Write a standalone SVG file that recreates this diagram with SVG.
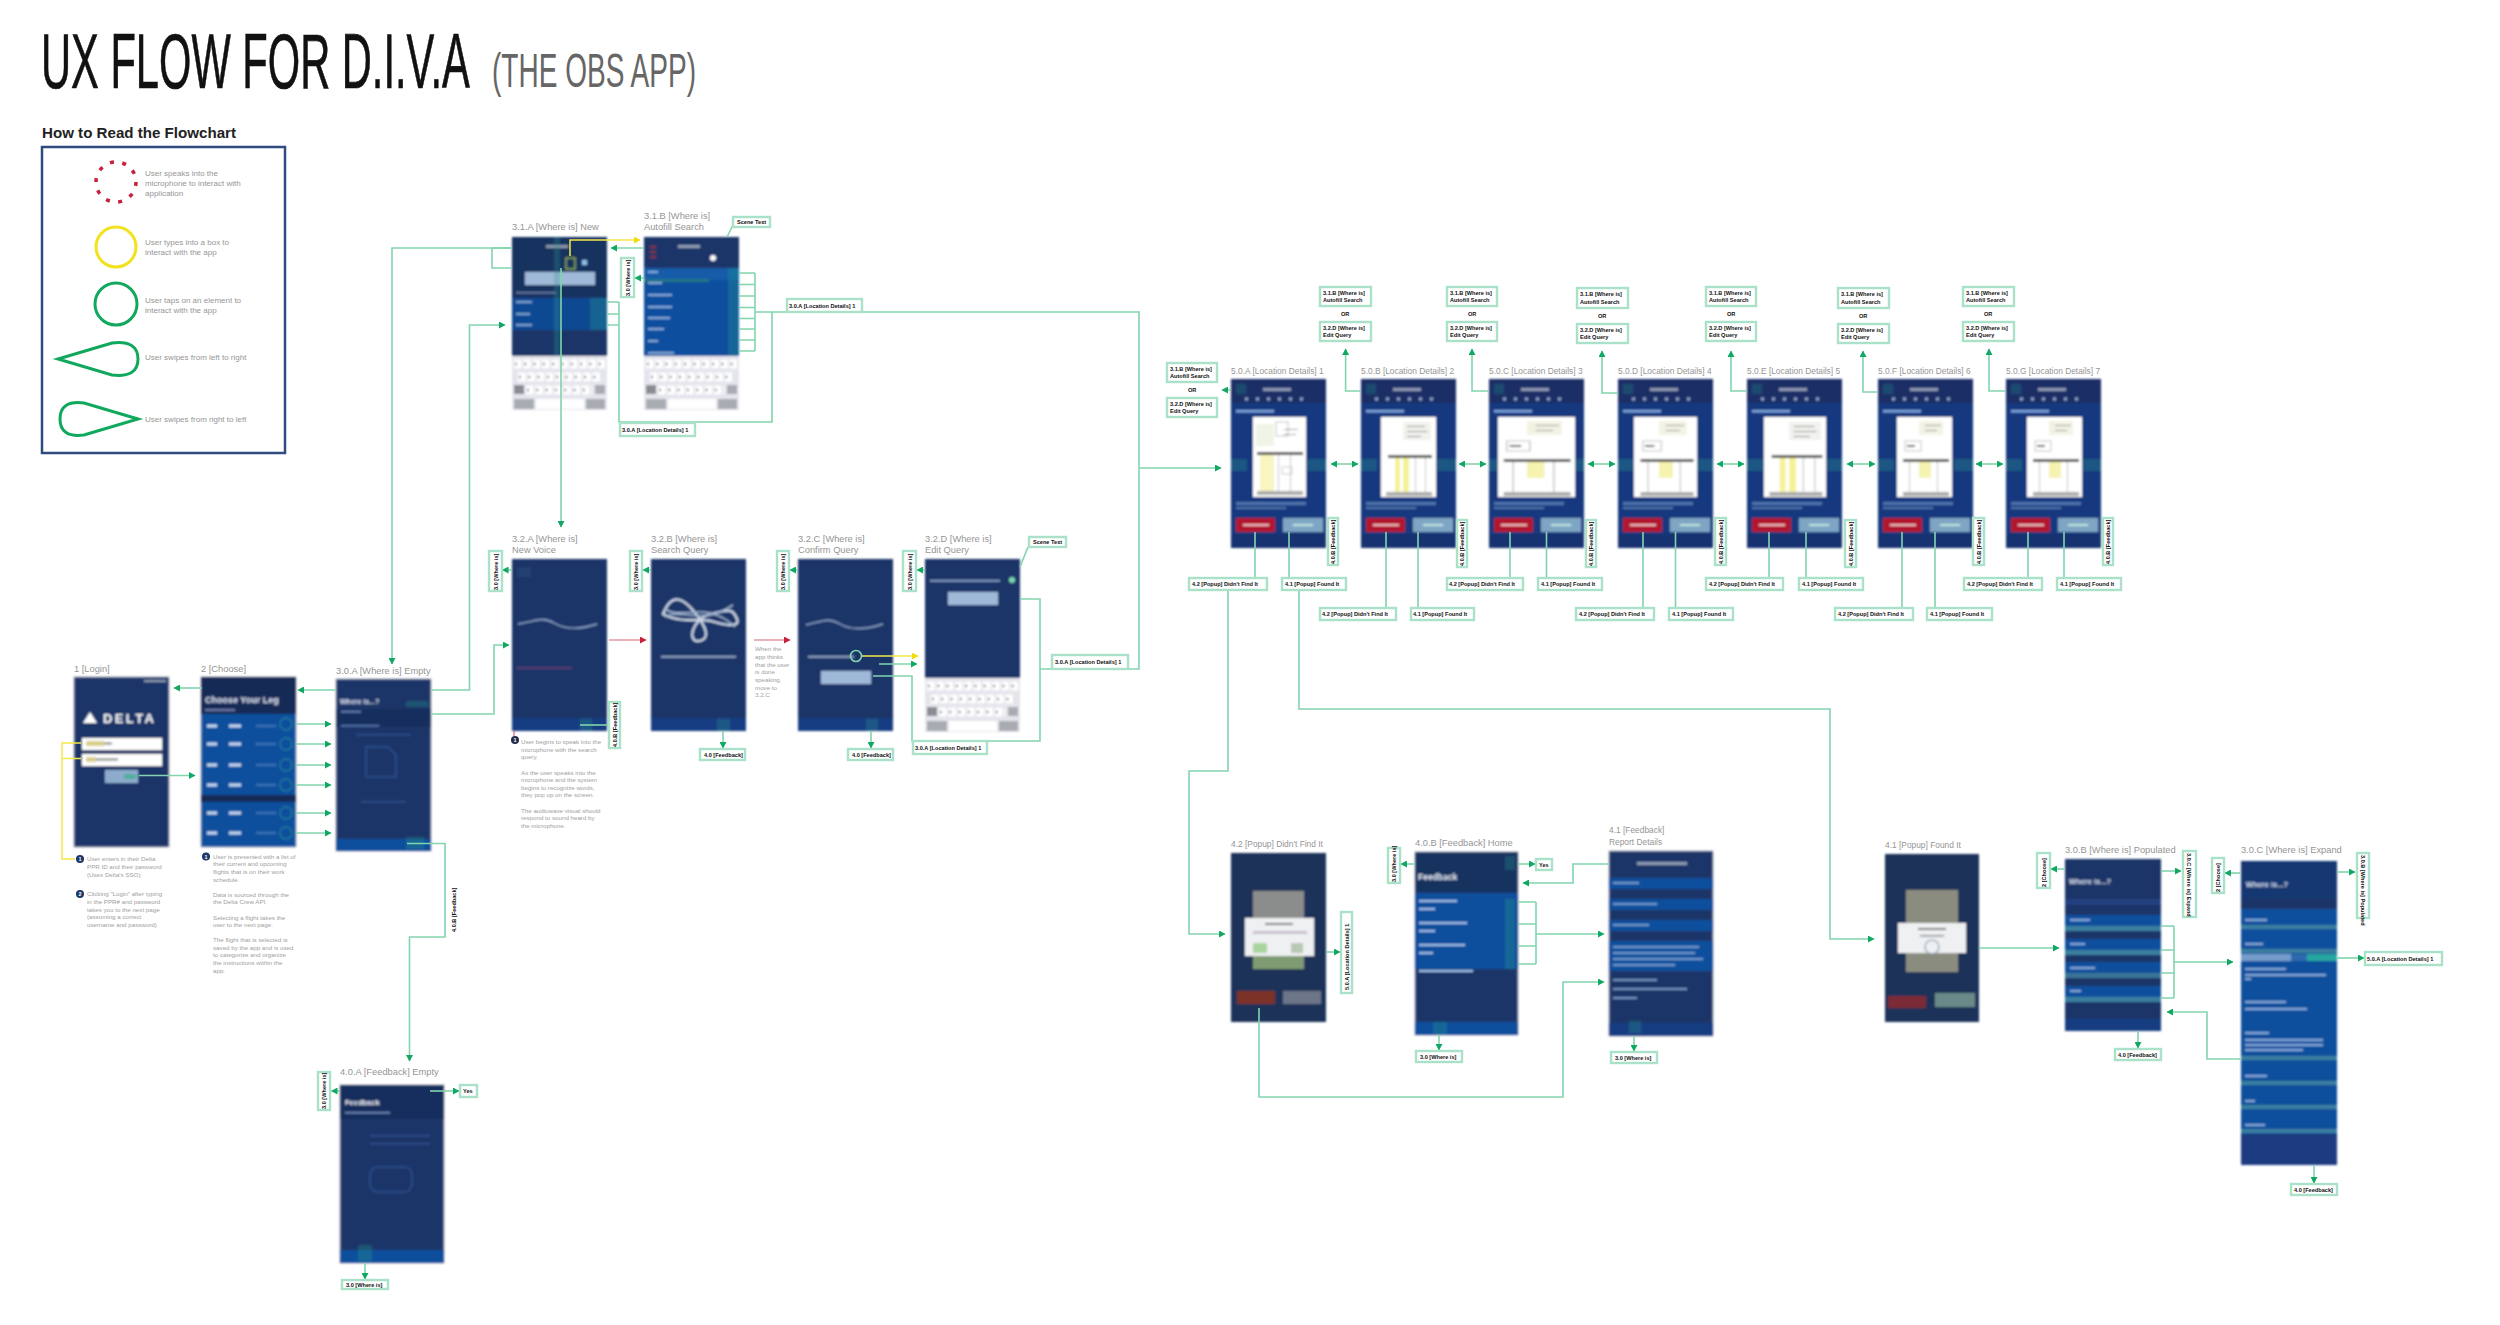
<svg xmlns="http://www.w3.org/2000/svg" width="2500" height="1325" viewBox="0 0 2500 1325">
<style>
text{font-family:"Liberation Sans",Arial,sans-serif}
.l{font-size:9.3px;fill:#959595}
.ld{font-size:8.4px;fill:#959595}
.a{font-size:6.2px;fill:#a0a0a0}
.lg{font-size:8px;fill:#969696}
.bx{fill:#fff;stroke:#a9e2c8;stroke-width:2.4}
.t{font-size:5.6px;font-weight:700;fill:#111}
.c{fill:none;stroke:#82d4ae;stroke-width:1.6}
.y{fill:none;stroke:#f5e84a;stroke-width:1.5}
.r{fill:none;stroke:#d9667a;stroke-width:1.2}
.ar{marker-end:url(#ag)}
.da{marker-start:url(#ag);marker-end:url(#ag)}
.s{filter:url(#bl)}
.w{fill:#fff;opacity:.5}
.n{fill:#1b3668}
.d{fill:#162a56}
.b{fill:#10509c}
.g{fill:#2a9d8f;opacity:.3}
.num{font-size:5.5px;fill:#fff;font-weight:700;text-anchor:middle}
</style>
<defs>
<filter id="bl" x="-5%" y="-5%" width="110%" height="110%"><feGaussianBlur stdDeviation="0.8"/></filter>
<marker id="ag" markerUnits="userSpaceOnUse" markerWidth="7" markerHeight="7" refX="6" refY="3.5" orient="auto-start-reverse"><path d="M0 0L6.5 3.5L0 7z" fill="#10a862"/></marker>
<marker id="ay" markerUnits="userSpaceOnUse" markerWidth="7" markerHeight="7" refX="6" refY="3.5" orient="auto"><path d="M0 0L6.5 3.5L0 7z" fill="#f0dc10"/></marker>
<marker id="ar" markerUnits="userSpaceOnUse" markerWidth="7" markerHeight="7" refX="6" refY="3.5" orient="auto"><path d="M0 0L6.5 3.5L0 7z" fill="#c8203f"/></marker>
<g id="kb">
<rect width="95" height="54" fill="#e4e5ec"/>
<path d="M2 8H93" stroke="#fff" stroke-width="9" stroke-dasharray="7.5 1.8"/>
<path d="M6 21H89" stroke="#fff" stroke-width="9" stroke-dasharray="7.5 1.8"/>
<path d="M14 34H80" stroke="#fff" stroke-width="9" stroke-dasharray="7.5 1.8"/>
<path d="M3 8H93M7 21H89M15 34H80" stroke="#8a8a90" stroke-width="2.5" stroke-dasharray="2 7.3"/>
<rect x="2" y="29" width="10" height="9" fill="#8a8c94"/><rect x="83" y="29" width="10" height="9" fill="#a9abb3"/>
<rect x="2" y="43" width="20" height="10" fill="#a9abb3"/><rect x="24" y="43" width="48" height="10" fill="#fff"/><rect x="74" y="43" width="19" height="10" fill="#a9abb3"/>
</g>
<g id="plan">
<rect x="2" y="5" width="18" height="22" fill="#f0f4e6"/><rect x="22" y="3" width="12" height="14" fill="none" stroke="#aaa" stroke-width=".7"/>
<rect x="3" y="33" width="46" height="3" fill="#555"/>
<rect x="6" y="36" width="14" height="36" fill="#f8f5c0"/><rect x="24" y="36" width="1" height="36" fill="#c4c4c4"/><rect x="36" y="36" width="1" height="36" fill="#c4c4c4"/>
<rect x="3" y="72" width="46" height="4" fill="#aaa"/><rect x="30" y="10" width="14" height="1" fill="#999"/><rect x="30" y="15" width="12" height="1" fill="#999"/><rect x="28" y="48" width="10" height="7" fill="none" stroke="#bbb" stroke-width=".7"/>
</g>
<g id="plan2">
<rect x="20" y="3" width="28" height="18" fill="#f2f2ee"/><rect x="24" y="7" width="18" height="1" fill="#888"/><rect x="24" y="12" width="20" height="1" fill="#888"/><rect x="24" y="17" width="14" height="1" fill="#888"/>
<rect x="5" y="36" width="44" height="3" fill="#555"/>
<rect x="12" y="39" width="5" height="34" fill="#f5f196"/><rect x="20" y="39" width="6" height="34" fill="#f5f196"/><rect x="32" y="39" width="1" height="34" fill="#c4c4c4"/><rect x="42" y="39" width="1" height="34" fill="#c4c4c4"/>
<rect x="3" y="73" width="46" height="4" fill="#aaa"/>
</g>
<g id="plan3">
<rect x="20" y="2" width="24" height="14" fill="#f3f3e4"/><rect x="26" y="6" width="16" height="1" fill="#999"/><rect x="26" y="11" width="12" height="1" fill="#999"/>
<rect x="6" y="22" width="16" height="10" fill="none" stroke="#aaa" stroke-width=".7"/><rect x="8" y="26" width="8" height="2" fill="#666"/>
<rect x="4" y="40" width="46" height="3" fill="#555"/>
<rect x="20" y="43" width="12" height="16" fill="#f5f3b0"/><rect x="10" y="43" width="1" height="30" fill="#c4c4c4"/><rect x="38" y="43" width="1" height="30" fill="#c4c4c4"/>
<rect x="4" y="73" width="46" height="4" fill="#aaa"/>
</g>
<g id="detail">
<rect width="95" height="169" fill="#17397e"/>
<rect width="95" height="24" fill="#1a2f66"/>
<rect x="5" y="5" width="10" height="10" fill="#206a7a" opacity=".5"/>
<rect x="32" y="9" width="28" height="3" class="w"/>
<path d="M14 20H78" stroke="#8ea6cc" stroke-width="3" stroke-dasharray="3 8"/>
<rect x="5" y="31" width="38" height="2.5" fill="#7fa6de"/>
<rect x="5" y="123" width="70" height="3" fill="#4f74ad"/><rect x="5" y="128" width="50" height="2" fill="#4f74ad"/>
<rect x="5" y="139" width="39" height="14" fill="#b2142f"/><rect x="12" y="145" width="26" height="2" fill="#e9b7bf"/>
<rect x="52" y="139" width="40" height="14" fill="#7ea6c4"/><rect x="62" y="145" width="20" height="2" fill="#bfe3e0"/>
<rect y="155" width="95" height="14" fill="#153170"/>
<rect x="0" y="80" width="16" height="12" class="g"/><rect x="76" y="80" width="19" height="12" class="g"/>
</g>
</defs>

<g id="title">
<text transform="translate(41,88) scale(.541,1)" font-size="77" fill="#111" stroke="#111" stroke-width=".7">UX FLOW FOR D.I.V.A</text>
<text transform="translate(492,87) scale(.572,1)" font-size="49" fill="#666">(THE OBS APP)</text>
</g>

<g id="legend">
<text x="42" y="138" font-size="15" font-weight="700" fill="#222" textLength="194" lengthAdjust="spacingAndGlyphs">How to Read the Flowchart</text>
<rect x="42" y="147" width="243" height="306" fill="#fff" stroke="#2f4c80" stroke-width="2.5"/>
<circle cx="116" cy="182" r="20" fill="none" stroke="#c8203f" stroke-width="3.5" stroke-dasharray="4 8.5"/>
<circle cx="116" cy="247" r="20" fill="none" stroke="#f2e21e" stroke-width="3"/>
<circle cx="116" cy="304" r="21" fill="none" stroke="#10a85c" stroke-width="3"/>
<path d="M58 359L112 343Q138 340 138 359Q138 378 112 375z" fill="none" stroke="#10a85c" stroke-width="3"/>
<path d="M138 419L84 403Q60 400 60 419Q60 438 84 435z" fill="none" stroke="#10a85c" stroke-width="3"/>
<text class="lg" x="145" y="176">User speaks into the</text>
<text class="lg" x="145" y="186">microphone to interact with</text>
<text class="lg" x="145" y="196">application</text>
<text class="lg" x="145" y="245">User types into a box to</text>
<text class="lg" x="145" y="255">interact with the app</text>
<text class="lg" x="145" y="303">User taps on an element to</text>
<text class="lg" x="145" y="313">interact with the app</text>
<text class="lg" x="145" y="360">User swipes from left to right</text>
<text class="lg" x="145" y="422">User swipes from right to left</text>
</g>

<g id="n-login">
<text class="l" x="74" y="672">1 [Login]</text>
<g class="s" transform="translate(74,677)">
<rect width="95" height="170" class="n" stroke="#b5b9c4" stroke-width=".8"/>
<path d="M9 46L16 35L23 46z" fill="#fff"/>
<rect x="8" y="61" width="80" height="12" fill="#fff"/><rect x="8" y="77" width="80" height="12" fill="#fff"/>
<rect x="12" y="64" width="18" height="5" fill="#d9cf8a"/><rect x="12" y="80" width="10" height="5" fill="#d9cf8a"/><rect x="22" y="81" width="22" height="3" fill="#aaa"/><rect x="30" y="65" width="8" height="3" fill="#aaa"/>
<rect x="31" y="93" width="33" height="13" fill="#8daccd"/>
<rect x="50" y="97" width="12" height="5" fill="#4fae9c"/>
<rect x="70" y="3" width="22" height="2" class="w"/>
<text x="29" y="46" font-size="13" font-weight="700" fill="#fff" letter-spacing="2.4">DELTA</text>
</g>
</g>

<g id="n-choose">
<text class="l" x="201" y="672">2 [Choose]</text>
<g class="s" transform="translate(201,677)">
<rect width="95" height="170" class="b" stroke="#b5b9c4" stroke-width=".8"/>
<rect width="95" height="37" class="d"/>
<rect y="118" width="95" height="7" class="d"/>
<rect x="4" y="32" width="30" height="2" fill="#6d78a6"/>
<path d="M6 49H16M28 49H40M6 67H16M28 67H40M6 88H16M28 88H40M6 108H16M28 108H40M6 136H16M28 136H40M6 156H16M28 156H40" stroke="#c9dcf4" stroke-width="3"/>
<path d="M55 49H75M55 67H75M55 88H75M55 108H75M55 136H75M55 156H75" stroke="#3b73b8" stroke-width="2"/>
<g fill="none" stroke="#2c8a97" stroke-width="1.4" opacity=".7"><circle cx="85" cy="47" r="6"/><circle cx="85" cy="67" r="6"/><circle cx="85" cy="88" r="6"/><circle cx="85" cy="108" r="6"/><circle cx="85" cy="136" r="6"/><circle cx="85" cy="156" r="6"/></g>
<text x="4" y="26" font-size="9" font-weight="700" fill="#dfe6f5">Choose Your Leg</text>
</g>
</g>

<g id="n-where-empty">
<text class="l" x="336" y="674">3.0.A [Where is] Empty</text>
<g class="s" transform="translate(336,679)">
<rect width="95" height="172" class="n" stroke="#b5b9c4" stroke-width=".8"/>
<rect y="30" width="95" height="18" class="d" opacity=".6"/>
<rect x="5" y="32" width="20" height="1.5" fill="#6f8ac0"/><rect x="5" y="46" width="38" height="1.5" fill="#587bb5"/>
<path d="M30 68h22l8 8v22h-30z" fill="none" stroke="#2a4f90" stroke-width="1.6"/>
<rect x="20" y="55" width="55" height="1.5" fill="#2d4f8e"/><rect x="25" y="122" width="45" height="1.5" fill="#2d4f8e"/>
<rect y="160" width="95" height="12" class="b"/>
<rect x="70" y="158" width="18" height="12" class="g"/><rect x="70" y="22" width="22" height="6" class="g"/>
<text x="4" y="25" font-size="7" font-weight="700" fill="#dfe6f5">Where is...?</text>
</g>
</g>

<g id="n-feedback-empty">
<text class="l" x="340" y="1075">4.0.A [Feedback] Empty</text>
<g class="s" transform="translate(340,1085)">
<rect width="104" height="178" class="n" stroke="#b5b9c4" stroke-width=".8"/>
<rect width="104" height="34" class="d" opacity=".6"/>
<rect x="5" y="27" width="45" height="1.5" fill="#7790c0"/>
<rect x="30" y="50" width="60" height="1.5" fill="#2d4f8e"/><rect x="30" y="58" width="60" height="1.5" fill="#2d4f8e"/>
<rect x="30" y="82" width="42" height="25" rx="8" fill="none" stroke="#2a4f90" stroke-width="1.5"/>
<rect y="165" width="104" height="13" class="b"/><rect x="18" y="160" width="14" height="16" class="g"/>
<text x="5" y="20" font-size="7.5" font-weight="700" fill="#eef2fa">Feedback</text>
</g>
</g>

<g id="n-3-1-a">
<text class="l" x="512" y="230">3.1.A [Where is] New</text>
<g class="s" transform="translate(512,237)">
<rect width="95" height="119" class="n"/>
<rect width="95" height="60" class="d" opacity=".5"/>
<rect x="34" y="8" width="22" height="3" class="w"/>
<rect x="54" y="21" width="9" height="11" fill="none" stroke="#a8c84a" stroke-width="1.2"/>
<rect x="70" y="23" width="5" height="5" fill="#8bc0e8"/>
<rect x="13" y="35" width="70" height="13" fill="#9fb9d8"/>
<rect x="4" y="55" width="40" height="1.5" fill="#6d82aa"/>
<rect y="61" width="95" height="32" fill="#0f4a92"/>
<path d="M4 65H20M4 77H18M4 88H20" stroke="#9cc0e8" stroke-width="1.6"/>
<rect x="78" y="61" width="17" height="32" class="g"/>
<rect x="42" y="0" width="6" height="119" class="g"/>
<use href="#kb" y="119"/>
</g>
</g>

<g id="n-3-1-b">
<text class="l" x="644" y="219">3.1.B [Where is]</text>
<text class="l" x="644" y="230">Autofill Search</text>
<g class="s" transform="translate(644,237)">
<rect width="95" height="119" class="n"/>
<rect y="31" width="95" height="88" fill="#0f509e"/>
<rect y="31" width="95" height="12" fill="#125ca8"/>
<rect y="42" width="65" height="3" fill="#2d8a72" opacity=".6"/>
<rect x="34" y="8" width="22" height="3" class="w"/>
<circle cx="69" cy="21" r="3" fill="#fff"/>
<path d="M4 35H14M4 46H18M4 58H28M4 70H28M4 81H26M4 92H20M4 104H14M4 116H30" stroke="#a8c8ee" stroke-width="1.6"/>
<path d="M6 10H12M6 15H12M6 20H12" stroke="#a33" stroke-width="1.6"/>
<rect x="84" y="31" width="11" height="88" class="g"/>
<use href="#kb" y="119"/>
</g>
</g>

<g id="n-3-2-a">
<text class="l" x="512" y="542">3.2.A [Where is]</text>
<text class="l" x="512" y="553">New Voice</text>
<g class="s" transform="translate(512,559)">
<rect width="95" height="172" class="n"/>
<path d="M6 65C25 62 30 57 42 64S70 70 85 65" fill="none" stroke="#8ea6c9" stroke-width="1.4"/>
<rect x="5" y="108" width="55" height="2" fill="#5a3a72"/><rect x="5" y="8" width="14" height="10" fill="#21406f"/>
<rect y="159" width="95" height="13" fill="#193d82"/><rect x="68" y="160" width="12" height="12" class="g"/>
</g>
</g>

<g id="n-3-2-b">
<text class="l" x="651" y="542">3.2.B [Where is]</text>
<text class="l" x="651" y="553">Search Query</text>
<g class="s" transform="translate(651,559)">
<rect width="95" height="172" class="n"/>
<path d="M12 55C22 30 35 42 45 55S60 80 48 82S40 60 60 55S82 50 86 60S70 65 60 62S30 65 12 55z" fill="none" stroke="#cdd8e8" stroke-width="2.2"/>
<path d="M14 58C30 48 50 68 82 46M14 50C30 62 55 40 84 68" fill="none" stroke="#9fb3cf" stroke-width="1.6"/>
<rect x="10" y="97" width="75" height="1.6" fill="#9fb3cf"/>
<rect y="159" width="95" height="13" fill="#193d82"/><rect x="66" y="160" width="13" height="12" class="g"/>
</g>
</g>

<g id="n-3-2-c">
<text class="l" x="798" y="542">3.2.C [Where is]</text>
<text class="l" x="798" y="553">Confirm Query</text>
<g class="s" transform="translate(798,559)">
<rect width="95" height="172" class="n"/>
<path d="M8 66C25 62 30 58 42 65S70 70 85 65" fill="none" stroke="#8ea6c9" stroke-width="1.4"/>
<rect x="10" y="97" width="46" height="1.6" fill="#9fb3cf"/>
<rect x="23" y="112" width="50" height="13" fill="#9fb9d8"/>
<rect y="159" width="95" height="13" fill="#193d82"/><rect x="68" y="160" width="12" height="12" class="g"/>
</g>
</g>

<g id="n-3-2-d">
<text class="l" x="925" y="542">3.2.D [Where is]</text>
<text class="l" x="925" y="553">Edit Query</text>
<g class="s" transform="translate(925,559)">
<rect width="95" height="119" class="n"/>
<rect x="5" y="21" width="70" height="1.6" fill="#8fa8cc"/><circle cx="87" cy="21" r="3" fill="#7ed8b0"/>
<rect x="23" y="33" width="50" height="13" fill="#9fb9d8"/>
<use href="#kb" y="119"/>
</g>
</g>

<g id="n-5-0-a"><text class="ld" x="1231" y="374">5.0.A [Location Details] 1</text><g class="s"><use href="#detail" x="1231" y="379"/><rect x="1253" y="417" width="53" height="80" fill="#fff"/><use href="#plan" transform="translate(1254,419)"/></g></g>
<g id="n-5-0-b"><text class="ld" x="1361" y="374">5.0.B [Location Details] 2</text><g class="s"><use href="#detail" x="1361" y="379"/><rect x="1381" y="417" width="55" height="80" fill="#fff"/><use href="#plan2" transform="translate(1383,419)"/></g></g>
<g id="n-5-0-c"><text class="ld" x="1489" y="374">5.0.C [Location Details] 3</text><g class="s"><use href="#detail" x="1489" y="379"/><rect x="1498" y="417" width="77" height="80" fill="#fff"/><use href="#plan3" transform="translate(1498,419) scale(1.45 1)"/></g></g>
<g id="n-5-0-d"><text class="ld" x="1618" y="374">5.0.D [Location Details] 4</text><g class="s"><use href="#detail" x="1618" y="379"/><rect x="1634" y="417" width="63" height="80" fill="#fff"/><use href="#plan3" transform="translate(1636,419) scale(1.15 1)"/></g></g>
<g id="n-5-0-e"><text class="ld" x="1747" y="374">5.0.E [Location Details] 5</text><g class="s"><use href="#detail" x="1747" y="379"/><rect x="1764" y="417" width="62" height="80" fill="#fff"/><use href="#plan2" transform="translate(1766,419) scale(1.15 1)"/></g></g>
<g id="n-5-0-f"><text class="ld" x="1878" y="374">5.0.F [Location Details] 6</text><g class="s"><use href="#detail" x="1878" y="379"/><rect x="1897" y="417" width="55" height="80" fill="#fff"/><use href="#plan3" transform="translate(1899,419)"/></g></g>
<g id="n-5-0-g"><text class="ld" x="2006" y="374">5.0.G [Location Details] 7</text><g class="s"><use href="#detail" x="2006" y="379"/><rect x="2027" y="417" width="55" height="80" fill="#fff"/><use href="#plan3" transform="translate(2029,419)"/></g></g>

<g id="n-4-2">
<text class="ld" x="1231" y="847">4.2 [Popup] Didn't Find It</text>
<g class="s" transform="translate(1231,853)">
<rect width="95" height="169" fill="#1f3059"/>
<rect x="22" y="38" width="51" height="78" fill="#8b8c8c"/>
<rect x="6" y="138" width="38" height="13" fill="#7b3028"/><rect x="52" y="138" width="38" height="13" fill="#6c7688"/>
<rect x="14" y="65" width="69" height="38" fill="#eef0f2"/>
<rect x="34" y="70" width="28" height="2" fill="#777"/><rect x="22" y="78" width="54" height="3" fill="#c9c0cc"/>
<rect x="22" y="90" width="14" height="10" fill="#a9d4a0"/><rect x="60" y="90" width="12" height="10" fill="#b8c8b4"/>
<rect x="22" y="103" width="50" height="13" fill="#7f9b72"/>
</g>
</g>

<g id="n-4-0-b">
<text class="l" x="1415" y="846">4.0.B [Feedback] Home</text>
<g class="s" transform="translate(1415,852)">
<rect width="103" height="183" class="n" stroke="#b5b9c4" stroke-width=".8"/>
<rect width="103" height="40" class="d" opacity=".5"/>
<rect y="41" width="103" height="76" class="b"/>
<path d="M4 49H42M4 57H20M4 71H52M4 79H20M4 93H50M4 101H18M4 119H58" stroke="#9cc0e8" stroke-width="1.8"/>
<rect x="90" y="4" width="10" height="14" class="g"/>
<rect y="170" width="103" height="13" class="b"/><rect x="18" y="170" width="14" height="12" class="g"/>
<rect x="90" y="47" width="10" height="70" class="g"/>
<text x="3" y="28" font-size="8.5" font-weight="700" fill="#e9eef8">Feedback</text>
</g>
</g>

<g id="n-4-1-report">
<text class="ld" x="1609" y="833">4.1 [Feedback]</text>
<text class="ld" x="1609" y="845">Report Details</text>
<g class="s" transform="translate(1609,851)">
<rect width="104" height="185" class="n" stroke="#b5b9c4" stroke-width=".8"/>
<rect x="28" y="11" width="50" height="3" class="w"/>
<rect y="27" width="104" height="11" class="b"/><rect y="48" width="104" height="11" class="b"/><rect y="69" width="104" height="11" class="b"/><rect y="90" width="104" height="30" class="b"/>
<path d="M4 32H30M4 53H48M4 74H40M4 96H90M4 102H86M4 108H94M4 114H66M4 129H48M4 138H78M4 147H28" stroke="#8eb2de" stroke-width="1.5"/>
<rect y="172" width="104" height="13" fill="#193d82"/><rect x="20" y="170" width="12" height="12" class="g"/>
</g>
</g>

<g id="n-4-1-found">
<text class="ld" x="1885" y="848">4.1 [Popup] Found It</text>
<g class="s" transform="translate(1885,854)">
<rect width="94" height="168" fill="#1f3059"/>
<rect x="21" y="36" width="52" height="82" fill="#8b8c80"/>
<rect x="13" y="69" width="68" height="30" fill="#eef0f2"/>
<rect x="33" y="74" width="28" height="2" fill="#777"/><rect x="35" y="81" width="24" height="1.5" fill="#888"/>
<circle cx="47" cy="93" r="7" fill="none" stroke="#7f9baa" stroke-width="1.2"/>
<rect x="3" y="142" width="38" height="12" fill="#7b2a36"/><rect x="50" y="139" width="40" height="14" fill="#6a8a8a"/>
</g>
</g>

<g id="n-3-0-b">
<text class="l" x="2065" y="853">3.0.B [Where is] Populated</text>
<g class="s" transform="translate(2065,859)">
<rect width="96" height="172" class="n"/>
<rect y="40" width="96" height="6" fill="#22407f"/>
<rect y="56" width="96" height="11" class="b"/><rect y="67" width="96" height="5" fill="#3a7fa0"/>
<rect y="80" width="96" height="11" class="b"/><rect y="91" width="96" height="5" fill="#3a7fa0"/>
<rect y="103" width="96" height="11" class="b"/><rect y="114" width="96" height="5" fill="#3a7596"/>
<rect y="127" width="96" height="11" class="b"/><rect y="138" width="96" height="5" fill="#3a7fa0"/>
<path d="M5 61H25M5 85H20M5 109H30M5 132H16" stroke="#a8c8ee" stroke-width="1.7"/>
<rect y="160" width="96" height="12" fill="#193d82"/>
<text x="4" y="25" font-size="7.5" font-weight="700" fill="#dfe6f5">Where is...?</text>
</g>
</g>

<g id="n-3-0-c">
<text class="l" x="2241" y="853">3.0.C [Where is] Expand</text>
<g class="s" transform="translate(2241,861)">
<rect width="96" height="304" class="b"/>
<rect width="96" height="38" class="d" opacity=".6"/>
<rect y="38" width="96" height="10" class="n"/>
<rect y="64" width="96" height="4" fill="#3a7fa0"/><rect y="88" width="96" height="4" fill="#3a7fa0"/>
<rect y="93" width="96" height="7" fill="#2f69ae"/><rect x="0" y="93" width="50" height="7" fill="#bcd0e6" opacity=".5"/><rect x="66" y="93" width="30" height="7" fill="#28a6a0"/>
<rect y="195" width="96" height="4" fill="#3a7fa0"/><rect y="220" width="96" height="4" fill="#3a7fa0"/><rect y="244" width="96" height="4" fill="#3a7fa0"/><rect y="268" width="96" height="4" fill="#3a7fa0"/>
<path d="M4 59H26M4 83H22M4 108H45M4 114H85M4 118H10M4 141H45M4 148H66M4 172H28M4 179H82M4 184H82M4 189H62M4 215H26M4 240H14M4 264H24" stroke="#a8c8ee" stroke-width="1.5"/>
<rect y="273" width="96" height="31" fill="#1a3a80"/>
<text x="5" y="26" font-size="7.5" font-weight="700" fill="#dfe6f5">Where is...?</text>
</g>
</g>

<g id="annotations">
<circle cx="80" cy="859" r="4" class="n"/><text class="num" x="80" y="861">1</text>
<text class="a" x="87" y="861">User enters in their Delta</text><text class="a" x="87" y="869">PPR ID and their password</text><text class="a" x="87" y="876.5">(Uses Delta's SSO)</text>
<circle cx="80" cy="894" r="4" class="n"/><text class="num" x="80" y="896">2</text>
<text class="a" x="87" y="896">Clicking "Login" after typing</text><text class="a" x="87" y="904">in the PPR# and password</text><text class="a" x="87" y="911.5">takes you to the next page</text><text class="a" x="87" y="919">(assuming a correct</text><text class="a" x="87" y="927">username and password)</text>
<circle cx="206" cy="856.5" r="4" class="n"/><text class="num" x="206" y="858.5">1</text>
<text class="a" x="213" y="858.5">User is presented with a list of</text><text class="a" x="213" y="866">their current and upcoming</text><text class="a" x="213" y="874">flights that is on their work</text><text class="a" x="213" y="881.5">schedule.</text>
<text class="a" x="213" y="896.5">Data is sourced through the</text><text class="a" x="213" y="904">the Delta Crew API.</text>
<text class="a" x="213" y="919.5">Selecting a flight takes the</text><text class="a" x="213" y="927">user to the next page.</text>
<text class="a" x="213" y="942">The flight that is selected is</text><text class="a" x="213" y="950">saved by the app and is used</text><text class="a" x="213" y="957">to categorize and organize</text><text class="a" x="213" y="965">the instructions within the</text><text class="a" x="213" y="973">app.</text>
<circle cx="515" cy="740" r="4" fill="#222d4a"/><text class="num" x="515" y="742">1</text>
<text class="a" x="521" y="744">User begins to speak into the</text><text class="a" x="521" y="751.5">microphone with the search</text><text class="a" x="521" y="759">query.</text>
<text class="a" x="521" y="774.5">As the user speaks into the</text><text class="a" x="521" y="782">microphone and the system</text><text class="a" x="521" y="790">begins to recognize words,</text><text class="a" x="521" y="797">they pop up on the screen.</text>
<text class="a" x="521" y="812.5">The audiowave visual should</text><text class="a" x="521" y="820">respond to sound heard by</text><text class="a" x="521" y="828">the microphone.</text>
<text class="a" x="755" y="651">When the</text><text class="a" x="755" y="658.5">app thinks</text><text class="a" x="755" y="666.5">that the user</text><text class="a" x="755" y="674">is done</text><text class="a" x="755" y="682">speaking,</text><text class="a" x="755" y="689.5">move to</text><text class="a" x="755" y="697">3.2.C</text>
</g>

<g id="connectors">
<path class="c ar" d="M202 688H174"/>
<path class="c ar" d="M336 690H298"/>
<path class="c ar" d="M139 775.5H195"/>
<path class="c ar" d="M296 724H331"/><path class="c ar" d="M296 744H331"/>
<path class="c ar" d="M296 765H331"/><path class="c ar" d="M296 785H331"/><path class="c ar" d="M296 813H331"/><path class="c ar" d="M296 833H331"/>
<path class="y" d="M81 743H62V859H75M81 758.5H62"/>
<path class="c ar" d="M407 843.5H445V937H409.5V1061"/>
<path class="c ar" d="M340 1091H331.5"/>
<path class="c ar" d="M430 1091H459"/>
<path class="c ar" d="M365 1263V1279"/>
<path class="c ar" d="M512 248H392V664"/>
<path class="c" d="M512 248H492V268H512"/>
<path class="c ar" d="M431 690H469.5V325H505"/>
<path class="c ar" d="M431 714H494V645H509"/>
<path class="c ar" d="M561 268V527"/>
<path class="y" d="M607 240H570V256"/>
<path class="y" d="M607 240H640" marker-end="url(#ay)"/>
<path class="c ar" d="M644 248H611"/>
<path class="c ar" d="M644 278H635"/>
<path class="c" d="M607 302H619M607 314H619M607 325H619M619 302V422H772V312"/>
<path class="c" d="M739 273H755M739 284.5H755M739 296H755M739 307.5H755M739 318.5H755M739 329H755M739 340H755M739 351H755M755 273V351"/>
<path class="c" d="M755 312H1139V669H1040V599H1020M1040 669V741H912V676H873"/>
<path class="c ar" d="M1139 468H1221"/>
<path class="c" d="M727 237L733 225"/>
<path class="c" d="M1020 567L1028 547"/>
<path class="c ar" d="M512 570H502.5"/><path class="c ar" d="M651 570H643"/><path class="c ar" d="M798 570H790"/><path class="c ar" d="M925 570H917"/>
<path class="r" d="M609 640H646" marker-end="url(#ar)"/>
<path class="r" d="M754 640H790" marker-end="url(#ar)"/>
<path class="r" d="M514 731V736"/>
<path class="c" d="M580 725H609"/>
<path class="y" d="M862 656H918" marker-end="url(#ay)"/>
<circle class="c" cx="856" cy="656" r="5.5"/>
<path class="c ar" d="M879 664H917"/>
<path class="c ar" d="M723 731V748"/>
<path class="c ar" d="M871 731V748"/>
<path class="c ar" d="M1231 390H1222"/>
<path class="c ar" d="M1361 391H1345.6V349"/>
<path class="c ar" d="M1489 391H1472V349"/>
<path class="c ar" d="M1618 393H1602V351"/>
<path class="c ar" d="M1747 391H1731V351"/>
<path class="c ar" d="M1878 392H1863V351"/>
<path class="c ar" d="M2006 391H1989V349"/>
<path class="c da" d="M1331 464H1358"/>
<path class="c da" d="M1459 464H1486"/>
<path class="c da" d="M1588 464H1615"/>
<path class="c da" d="M1717 464H1744"/>
<path class="c da" d="M1847 464H1875"/>
<path class="c da" d="M1976 464H2003"/>
<path class="c" d="M1255 532V578M1289 532V578M1386 532V608M1418 532V608M1510 532V578M1546.5 532V578M1643 532V608M1675.5 532V608M1769 532V578M1806 532V578M1902 532V608M1935 532V608M2028 532V578M2064 532V578"/>
<path class="c ar" d="M1228 590V771H1189V934H1225"/>
<path class="c ar" d="M1299 590V709H1830V939H1874"/>
<path class="c ar" d="M1326 952H1340"/>
<path class="c ar" d="M1415 864H1401"/>
<path class="c ar" d="M1518 864H1535"/>
<path class="c ar" d="M1609 864H1573V883H1523"/>
<path class="c" d="M1518 902H1536M1518 924H1536M1518 946H1536M1518 964H1536M1536 902V964"/>
<path class="c ar" d="M1536 934H1604"/>
<path class="c ar" d="M1259 1008V1097H1563V982H1604"/>
<path class="c ar" d="M1439 1035V1050"/>
<path class="c ar" d="M1634 1036V1051"/>
<path class="c ar" d="M1979 948H2059"/>
<path class="c ar" d="M2065 869H2051"/>
<path class="c ar" d="M2161 871H2181"/>
<path class="c" d="M2161 926H2174M2161 950H2174M2161 973H2174M2161 998H2174M2174 926V998"/>
<path class="c ar" d="M2174 962H2233"/>
<path class="c ar" d="M2241 1059H2207V1012H2167"/>
<path class="c ar" d="M2138 1031V1048"/>
<path class="c ar" d="M2241 873H2225"/>
<path class="c ar" d="M2337 872H2355"/>
<path class="c ar" d="M2337 958H2364"/>
<path class="c ar" d="M2314 1165V1183"/>
</g>

<g id="box-feedback-rotated-a"><text class="t" transform="translate(456,932) rotate(-90)">4.0.B [Feedback]</text></g>
<g id="box-b1"><rect class="bx" x="318" y="1072" width="12" height="38"/><text class="t" transform="translate(326,1109) rotate(-90)">3.0 [Where is]</text></g>
<g id="box-b2"><rect class="bx" x="460" y="1085" width="17" height="12"/><text class="t" x="463" y="1093">Yes</text></g>
<g id="box-b3"><rect class="bx" x="342" y="1280" width="46" height="9"/><text class="t" x="346" y="1287">3.0 [Where is]</text></g>
<g id="box-b4"><rect class="bx" x="733" y="217" width="37" height="10"/><text class="t" x="737" y="224">Scene Text</text></g>
<g id="box-b5"><rect class="bx" x="621" y="258" width="13" height="39"/><text class="t" transform="translate(630,296) rotate(-90)">3.0 [Where is]</text></g>
<g id="box-b6"><rect class="bx" x="620" y="423" width="75" height="13"/><text class="t" x="622" y="432">3.0.A [Location Details] 1</text></g>
<g id="box-b7"><rect class="bx" x="787" y="299" width="75" height="13"/><text class="t" x="789" y="308">3.0.A [Location Details] 1</text></g>
<g id="box-b8"><rect class="bx" x="1052" y="655" width="76" height="14"/><text class="t" x="1055" y="664">3.0.A [Location Details] 1</text></g>
<g id="box-b9"><rect class="bx" x="913" y="741" width="74" height="13"/><text class="t" x="915" y="750">3.0.A [Location Details] 1</text></g>
<g id="box-b10"><rect class="bx" x="1029" y="537" width="37" height="10"/><text class="t" x="1033" y="544">Scene Text</text></g>
<g id="box-b11"><rect class="bx" x="489" y="551" width="13" height="40"/><text class="t" transform="translate(498,590) rotate(-90)">3.0 [Where is]</text></g>
<g id="box-b12"><rect class="bx" x="630" y="551" width="12" height="40"/><text class="t" transform="translate(638,590) rotate(-90)">3.0 [Where is]</text></g>
<g id="box-b13"><rect class="bx" x="777" y="551" width="12" height="40"/><text class="t" transform="translate(785,590) rotate(-90)">3.0 [Where is]</text></g>
<g id="box-b14"><rect class="bx" x="903" y="551" width="13" height="40"/><text class="t" transform="translate(912,590) rotate(-90)">3.0 [Where is]</text></g>
<g id="box-b15"><rect class="bx" x="609" y="702" width="11" height="46"/><text class="t" transform="translate(617,747) rotate(-90)">4.0.B [Feedback]</text></g>
<g id="box-b16"><rect class="bx" x="700" y="749" width="45" height="11"/><text class="t" x="704" y="757">4.0 [Feedback]</text></g>
<g id="box-b17"><rect class="bx" x="848" y="749" width="45" height="11"/><text class="t" x="852" y="757">4.0 [Feedback]</text></g>

<g id="box-a-top"><rect class="bx" x="1167" y="363" width="50" height="19"/><text class="t" x="1170" y="371">3.1.B [Where is]</text><text class="t" x="1170" y="378">Autofill Search</text><text class="t" x="1188" y="392">OR</text><rect class="bx" x="1167" y="398" width="50" height="19"/><text class="t" x="1170" y="406">3.2.D [Where is]</text><text class="t" x="1170" y="413">Edit Query</text></g>
<g id="box-b-top"><rect class="bx" x="1320" y="287" width="51" height="19"/><text class="t" x="1323" y="295">3.1.B [Where is]</text><text class="t" x="1323" y="302">Autofill Search</text><text class="t" x="1341" y="316">OR</text><rect class="bx" x="1320" y="322" width="51" height="19"/><text class="t" x="1323" y="330">3.2.D [Where is]</text><text class="t" x="1323" y="337">Edit Query</text></g>
<g id="box-c-top"><rect class="bx" x="1447" y="287" width="50" height="19"/><text class="t" x="1450" y="295">3.1.B [Where is]</text><text class="t" x="1450" y="302">Autofill Search</text><text class="t" x="1468" y="316">OR</text><rect class="bx" x="1447" y="322" width="50" height="19"/><text class="t" x="1450" y="330">3.2.D [Where is]</text><text class="t" x="1450" y="337">Edit Query</text></g>
<g id="box-d-top"><rect class="bx" x="1577" y="288" width="51" height="20"/><text class="t" x="1580" y="296">3.1.B [Where is]</text><text class="t" x="1580" y="304">Autofill Search</text><text class="t" x="1598" y="318">OR</text><rect class="bx" x="1577" y="324" width="51" height="19"/><text class="t" x="1580" y="332">3.2.D [Where is]</text><text class="t" x="1580" y="339">Edit Query</text></g>
<g id="box-e-top"><rect class="bx" x="1706" y="287" width="50" height="19"/><text class="t" x="1709" y="295">3.1.B [Where is]</text><text class="t" x="1709" y="302">Autofill Search</text><text class="t" x="1727" y="316">OR</text><rect class="bx" x="1706" y="322" width="50" height="19"/><text class="t" x="1709" y="330">3.2.D [Where is]</text><text class="t" x="1709" y="337">Edit Query</text></g>
<g id="box-f-top"><rect class="bx" x="1838" y="288" width="51" height="20"/><text class="t" x="1841" y="296">3.1.B [Where is]</text><text class="t" x="1841" y="304">Autofill Search</text><text class="t" x="1859" y="318">OR</text><rect class="bx" x="1838" y="324" width="51" height="19"/><text class="t" x="1841" y="332">3.2.D [Where is]</text><text class="t" x="1841" y="339">Edit Query</text></g>
<g id="box-g-top"><rect class="bx" x="1963" y="287" width="51" height="19"/><text class="t" x="1966" y="295">3.1.B [Where is]</text><text class="t" x="1966" y="302">Autofill Search</text><text class="t" x="1984" y="316">OR</text><rect class="bx" x="1963" y="322" width="51" height="19"/><text class="t" x="1966" y="330">3.2.D [Where is]</text><text class="t" x="1966" y="337">Edit Query</text></g>

<g id="fb-a"><rect class="bx" x="1328" y="518" width="10" height="47"/><text class="t" transform="translate(1335,564) rotate(-90)">4.0.B [Feedback]</text></g>
<g id="fb-b"><rect class="bx" x="1457" y="520" width="10" height="47"/><text class="t" transform="translate(1464,566) rotate(-90)">4.0.B [Feedback]</text></g>
<g id="fb-c"><rect class="bx" x="1586" y="520" width="10" height="47"/><text class="t" transform="translate(1593,566) rotate(-90)">4.0.B [Feedback]</text></g>
<g id="fb-d"><rect class="bx" x="1715" y="518" width="11" height="47"/><text class="t" transform="translate(1723,564) rotate(-90)">4.0.B [Feedback]</text></g>
<g id="fb-e"><rect class="bx" x="1845" y="520" width="11" height="47"/><text class="t" transform="translate(1853,566) rotate(-90)">4.0.B [Feedback]</text></g>
<g id="fb-f"><rect class="bx" x="1973" y="518" width="11" height="47"/><text class="t" transform="translate(1981,564) rotate(-90)">4.0.B [Feedback]</text></g>
<g id="fb-g"><rect class="bx" x="2103" y="518" width="10" height="47"/><text class="t" transform="translate(2110,564) rotate(-90)">4.0.B [Feedback]</text></g>

<g id="pop-a1"><rect class="bx" x="1189" y="578" width="78" height="12"/><text class="t" x="1192" y="586">4.2 [Popup] Didn't Find It</text></g>
<g id="pop-a2"><rect class="bx" x="1282" y="578" width="64" height="12"/><text class="t" x="1285" y="586">4.1 [Popup] Found It</text></g>
<g id="pop-b1"><rect class="bx" x="1320" y="608" width="76" height="12"/><text class="t" x="1322" y="616">4.2 [Popup] Didn't Find It</text></g>
<g id="pop-b2"><rect class="bx" x="1411" y="608" width="63" height="12"/><text class="t" x="1413" y="616">4.1 [Popup] Found It</text></g>
<g id="pop-c1"><rect class="bx" x="1447" y="578" width="76" height="12"/><text class="t" x="1449" y="586">4.2 [Popup] Didn't Find It</text></g>
<g id="pop-c2"><rect class="bx" x="1538" y="578" width="64" height="12"/><text class="t" x="1541" y="586">4.1 [Popup] Found It</text></g>
<g id="pop-d1"><rect class="bx" x="1576" y="608" width="78" height="12"/><text class="t" x="1579" y="616">4.2 [Popup] Didn't Find It</text></g>
<g id="pop-d2"><rect class="bx" x="1669" y="608" width="64" height="12"/><text class="t" x="1672" y="616">4.1 [Popup] Found It</text></g>
<g id="pop-e1"><rect class="bx" x="1706" y="578" width="77" height="12"/><text class="t" x="1709" y="586">4.2 [Popup] Didn't Find It</text></g>
<g id="pop-e2"><rect class="bx" x="1799" y="578" width="64" height="12"/><text class="t" x="1802" y="586">4.1 [Popup] Found It</text></g>
<g id="pop-f1"><rect class="bx" x="1835" y="608" width="78" height="12"/><text class="t" x="1838" y="616">4.2 [Popup] Didn't Find It</text></g>
<g id="pop-f2"><rect class="bx" x="1927" y="608" width="65" height="12"/><text class="t" x="1930" y="616">4.1 [Popup] Found It</text></g>
<g id="pop-g1"><rect class="bx" x="1964" y="578" width="78" height="12"/><text class="t" x="1967" y="586">4.2 [Popup] Didn't Find It</text></g>
<g id="pop-g2"><rect class="bx" x="2057" y="578" width="64" height="12"/><text class="t" x="2060" y="586">4.1 [Popup] Found It</text></g>

<g id="box-c1"><rect class="bx" x="1341" y="912" width="11" height="81"/><text class="t" transform="translate(1349,990) rotate(-90)">5.0.A [Location Details] 1</text></g>
<g id="box-c2"><rect class="bx" x="1388" y="848" width="12" height="35"/><text class="t" transform="translate(1396,882) rotate(-90)">3.0 [Where is]</text></g>
<g id="box-c3"><rect class="bx" x="1536" y="859" width="16" height="11"/><text class="t" x="1539" y="867">Yes</text></g>
<g id="box-c4"><rect class="bx" x="1416" y="1051" width="46" height="11"/><text class="t" x="1420" y="1059">3.0 [Where is]</text></g>
<g id="box-c5"><rect class="bx" x="1611" y="1052" width="46" height="11"/><text class="t" x="1615" y="1060">3.0 [Where is]</text></g>
<g id="box-c6"><rect class="bx" x="2037" y="853" width="13" height="35"/><text class="t" transform="translate(2046,887) rotate(-90)">2 [Choose]</text></g>
<g id="box-c7"><rect class="bx" x="2183" y="851" width="13" height="66"/><text class="t" transform="translate(2187,853) rotate(90)">3.0.C [Where is] Expand</text></g>
<g id="box-c8"><rect class="bx" x="2115" y="1049" width="46" height="11"/><text class="t" x="2118" y="1057">4.0 [Feedback]</text></g>
<g id="box-c9"><rect class="bx" x="2212" y="858" width="12" height="35"/><text class="t" transform="translate(2220,892) rotate(-90)">2 [Choose]</text></g>
<g id="box-c10"><rect class="bx" x="2357" y="853" width="12" height="65"/><text class="t" transform="translate(2361,855) rotate(90)">3.0.B [Where is] Populated</text></g>
<g id="box-c11"><rect class="bx" x="2365" y="952" width="77" height="13"/><text class="t" x="2367" y="961">5.0.A [Location Details] 1</text></g>
<g id="box-c12"><rect class="bx" x="2291" y="1184" width="46" height="11"/><text class="t" x="2294" y="1192">4.0 [Feedback]</text></g>
</svg>
